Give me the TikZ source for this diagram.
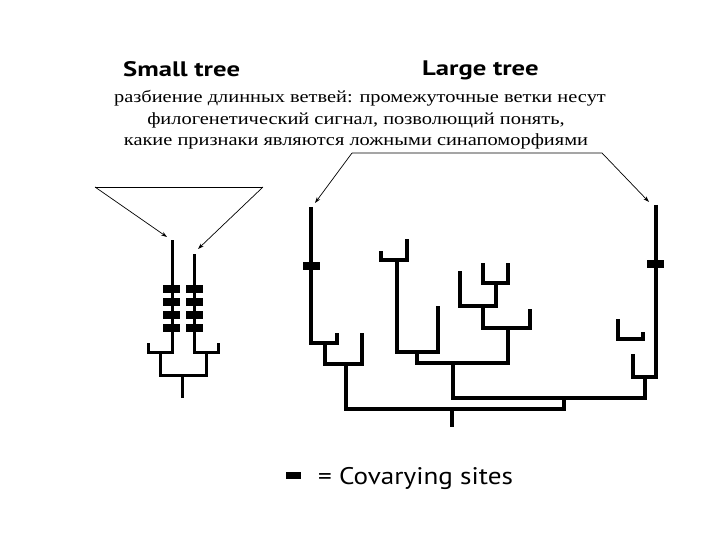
\documentclass[tikz,border=0pt]{standalone}
\usepackage{fontspec}
\setmainfont{Liberation Serif}
\newfontfamily\rusfont[FakeStretch=1.2]{Liberation Serif}
\newfontfamily\hdfont[FakeStretch=1.27]{PT Sans}
\newfontfamily\legfont[FakeStretch=1.13]{PT Sans}
\usetikzlibrary{arrows.meta}
\begin{document}
\begin{tikzpicture}[x=1pt,y=-1pt,
  br/.style={line width=3.2pt, line join=miter},
  sbr/.style={line width=3pt, line join=miter},
  site/.style={fill=black, draw=none},
  thin/.style={line width=0.7pt},
  arr/.style={thin, -{Stealth[length=6pt,width=4pt]}},
  title/.style={font=\hdfont\bfseries\fontsize{21}{23}\selectfont, anchor=base west, inner sep=0pt},
  rus/.style={font=\rusfont\fontsize{17}{21}\selectfont, anchor=base, inner sep=0pt},
  leg/.style={font=\legfont\fontsize{24}{26}\selectfont, anchor=base west, inner sep=0pt}]
\useasboundingbox (0,0) rectangle (720,540);
% titles
\node[title] (small) at (123,77) {Small tree};
\node[title] (large) at (422,76) {Large tree};
\node[rus] (txt1) at (360,103) {разбиение длинных ветвей: промежуточные ветки несут};
\node[rus] (txt2) at (356,125) {филогенетический сигнал, позволющий понять,};
\node[rus] (txt3) at (356,146) {какие признаки являются ложными синапоморфиями};
% small tree
\coordinate (sa) at (172,240);
\coordinate (sb) at (194,254);
\draw[sbr] (sa) -- (172,352) -- (148,352) -- (148,343);
\draw[sbr] (sb) -- (194,352) -- (218,352) -- (218,343);
\draw[sbr] (160,352) -- (160,375) -- (206,375) -- (206,352);
\draw[sbr] (182,375) -- (182,398);
\foreach \y in {289,302,315,328}{
  \fill[site] (163,\y-4) rectangle (180,\y+4);
  \fill[site] (186,\y-4) rectangle (203,\y+4);
}
\coordinate (tl) at (95,187);
\coordinate (tr) at (263,187);
\draw[thin] (tl) -- (tr);
\draw[arr] (tl) -- (167,237);
\draw[arr] (tr) -- (198,249);
% large tree
\coordinate (la) at (311,207);
\coordinate (lb) at (656,205);
\draw[br] (la) -- (311,343) -- (337,343) -- (337,333);
\draw[br] (325,343) -- (325,364) -- (362,364) -- (362,333);
\draw[br] (346,364) -- (346,409) -- (564,409) -- (564,398);
\draw[br] (452,409) -- (452,427);
\draw[br] (453,363) -- (453,398) -- (645,398) -- (645,377);
\draw[br] (417,352) -- (417,363) -- (508,363) -- (508,328);
\draw[br] (397,260) -- (397,352) -- (438,352) -- (438,306);
\draw[br] (381,251) -- (381,260) -- (407,260) -- (407,239);
\draw[br] (483,306) -- (483,328) -- (530,328) -- (530,309);
\draw[br] (460,271) -- (460,306) -- (496,306) -- (496,283);
\draw[br] (483,263) -- (483,283) -- (508,283) -- (508,263);
\draw[br] (lb) -- (656,377) -- (633,377) -- (633,354);
\draw[br] (618,319) -- (618,339) -- (643,339) -- (643,332);
\fill[site] (303,262) rectangle (320,270);
\fill[site] (647,260) rectangle (664,268);
% pointer from text
\coordinate (u1) at (352,153);
\coordinate (u2) at (602,153);
\draw[arr] (u1) -- (315,203);
\draw[arr] (u1) -- (u2) -- (649,202);
% legend
\fill[site] (286,472) rectangle (301,479);
\node[leg] (legend) at (318,484) {= Covarying sites};
\end{tikzpicture}
\end{document}
